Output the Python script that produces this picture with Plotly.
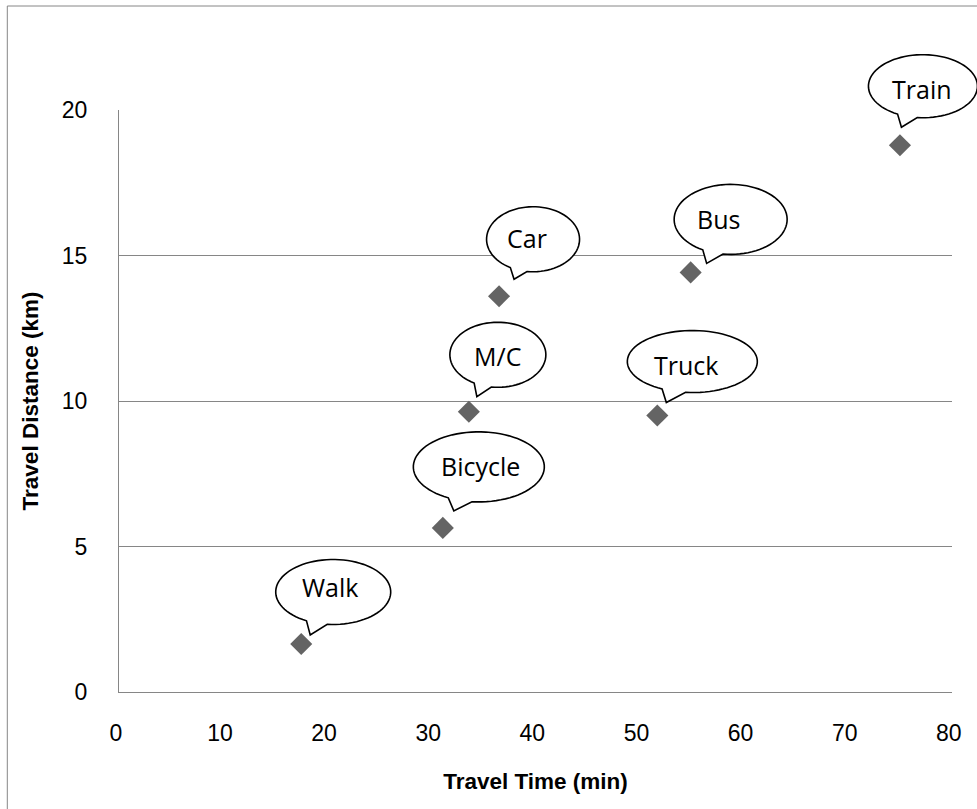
import numpy as np
import plotly.graph_objects as go

# ---------------- data ----------------
modes = ["Walk", "Bicycle", "M/C", "Car", "Truck", "Bus", "Train"]
travel_time = [17.5, 31.1, 33.6, 36.5, 51.7, 54.9, 75.0]   # min
travel_dist = [1.65, 5.64, 9.63, 13.6, 9.5, 14.42, 18.79]  # km

x_ticks = [0, 10, 20, 30, 40, 50, 60, 70, 80]
y_ticks = [0, 5, 10, 15, 20]
x_range = [0, 80]
y_range = [0, 20]

# ---------------- callout geometry (pixels relative to point, y up) ----------------
ell_dx = [32, 36, 29, 34, 35, 40, 23]
ell_dy = [52, 61, 57, 57, 54, 53, 59]
ell_rx = [57.5, 65.5, 48, 46.5, 65, 56.5, 54.5]
ell_ry = [32.5, 35, 32.5, 32.5, 31, 35, 31.5]
tip_dx = [9, 11, 8, 15, 9, 16, 1.5]
tip_dy = [9, 17, 15, 17, 13, 9, 18]
txt_dx = [29, 38, 29, 28, 29, 28, 22]
txt_dy = [57, 62, 56, 58, 51, 53, 56]

W, H = 977, 809
ML, MR, MT, MB = 119, 25, 110, 117
GRID = "#868686"

fig = go.Figure()
fig.add_trace(go.Scatter(
    x=travel_time, y=travel_dist, mode="markers", text=modes,
    marker=dict(symbol="diamond", size=17, color="#646464", line=dict(width=0)),
    showlegend=False, hoverinfo="text+x+y",
))


def bubble_path(cx, cy, rx, ry, tx, ty, delta=0.19, n=80):
    u = (tx - cx) / rx
    v = (ty - cy) / ry
    th = np.arctan2(v, u)
    angs = np.linspace(th + delta, th - delta + 2 * np.pi, n)
    pts = [(cx + rx * np.cos(a), cy + ry * np.sin(a)) for a in angs]
    pts.append((tx, ty))
    s = "M " + " L ".join(f"{px:.2f},{py:.2f}" for px, py in pts) + " Z"
    return s


shapes = []
annotations = []
for i, m in enumerate(modes):
    xa = (travel_time[i] - x_range[0]) / (x_range[1] - x_range[0])
    ya = (travel_dist[i] - y_range[0]) / (y_range[1] - y_range[0])
    shapes.append(dict(
        type="path", xref="paper", yref="paper",
        xsizemode="pixel", ysizemode="pixel", xanchor=xa, yanchor=ya,
        path=bubble_path(ell_dx[i], ell_dy[i], ell_rx[i], ell_ry[i], tip_dx[i], tip_dy[i]),
        fillcolor="white", line=dict(color="black", width=1.6), layer="above",
    ))
    annotations.append(dict(
        x=travel_time[i], y=travel_dist[i], xref="x", yref="y",
        text=m, showarrow=False, xshift=txt_dx[i], yshift=txt_dy[i],
        font=dict(family="Open Sans", size=25, color="black"),
        xanchor="center", yanchor="middle",
    ))

# outer chart border (only top and left visible in the crop)
pw = W - ML - MR
ph = H - MT - MB
bx = (7.3 - ML) / pw
by_top = (H - MB - 6.0) / ph
by_bot = (H - MB - (H + 20)) / ph
bx_right = (W + 20 - ML) / pw
shapes.append(dict(
    type="path", xref="paper", yref="paper",
    path=f"M {bx},{by_bot} L {bx},{by_top} L {bx_right},{by_top}",
    line=dict(color=GRID, width=1), layer="below",
))

fig.update_layout(
    width=W, height=H,
    margin=dict(l=ML, r=MR, t=MT, b=MB, pad=0),
    paper_bgcolor="white", plot_bgcolor="white",
    shapes=shapes, annotations=annotations,
    font=dict(family="Liberation Sans", size=23, color="black"),
    xaxis=dict(
        range=x_range, tickvals=x_ticks, ticktext=[f"{v}\u00a0" for v in x_ticks],
        showgrid=False, zeroline=False, showline=True, linecolor=GRID, linewidth=1,
        ticks="", ticklabelstandoff=20,
        title=dict(text="<b>Travel Time (min)</b>", standoff=28,
                   font=dict(family="Liberation Sans", size=22.5)),
        automargin=False, fixedrange=True,
    ),
    yaxis=dict(
        range=y_range, tickvals=y_ticks,
        showgrid=True, gridcolor=GRID, gridwidth=1, zeroline=False,
        showline=True, linecolor=GRID, linewidth=1,
        ticks="", ticklabelstandoff=26,
        title=dict(text="<b>Travel Distance (km)</b>", standoff=16,
                   font=dict(family="Liberation Sans", size=22.5)),
        automargin=False, fixedrange=True,
    ),
)

fig.write_html("out.html")
